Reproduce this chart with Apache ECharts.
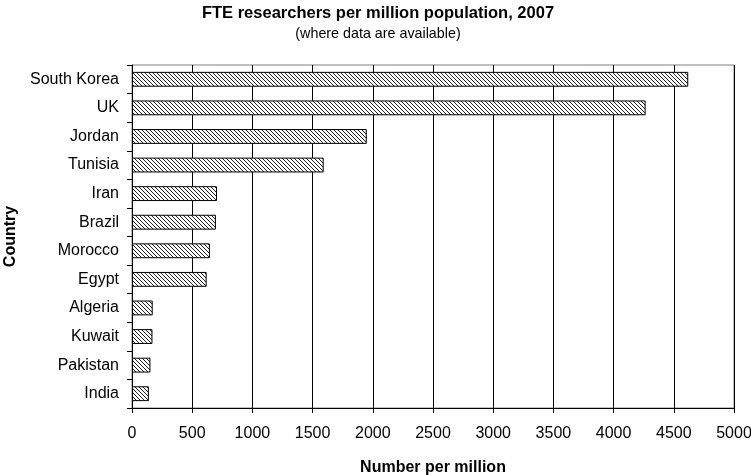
<!DOCTYPE html>
<html><head><meta charset="utf-8">
<script src="https://cdn.jsdelivr.net/npm/echarts@6/dist/echarts.min.js"></script>
<style>html,body{margin:0;padding:0;background:#fff}#c{width:751px;height:475px}</style>
</head><body><div id="c"></div>
<script>
const categories = ['South Korea','UK','Jordan','Tunisia','Iran','Brazil','Morocco','Egypt','Algeria','Kuwait','Pakistan','India'];
const values = [4620, 4266, 1950, 1592, 706, 697, 647, 620, 172, 170, 153, 140];
const xTicks = [0,500,1000,1500,2000,2500,3000,3500,4000,4500,5000];

const pc = document.createElement('canvas');
pc.width = 4; pc.height = 4;
const g = pc.getContext('2d');
g.fillStyle = '#fff'; g.fillRect(0,0,4,4);
g.strokeStyle = '#222'; g.lineWidth = 1;
g.beginPath();
g.moveTo(-1,-1); g.lineTo(5,5);
g.moveTo(-1,3); g.lineTo(1,5);
g.moveTo(3,-1); g.lineTo(5,1);
g.stroke();

const font = 'Liberation Sans, Arial, sans-serif';
const chart = echarts.init(document.getElementById('c'), null, {renderer:'canvas'});
chart.setOption({
  animation: false,
  title: {
    text: 'FTE researchers per million population, 2007',
    subtext: '(where data are available)',
    left: 373, textAlign: 'center', top: 0, itemGap: 5,
    textStyle: {fontFamily: font, fontSize: 16.5, fontWeight: 'bold', color: '#000'},
    subtextStyle: {fontFamily: font, fontSize: 14.3, color: '#000'}
  },
  grid: {left: 132, right: 17, top: 65, bottom: 67, show: true, borderColor: '#808080', borderWidth: 1, containLabel: false, outerBoundsMode: 'none'},
  xAxis: {
    type: 'value', min: 0, max: 5000, interval: 500,
    name: 'Number per million', nameLocation: 'middle', nameGap: 52,
    nameTextStyle: {fontFamily: font, fontSize: 16, fontWeight: 'bold', color: '#000'},
    axisLine: {show: true, lineStyle: {color: '#000'}},
    axisTick: {show: true, length: 5, lineStyle: {color: '#000'}},
    axisLabel: {fontFamily: font, fontSize: 16, color: '#000', margin: 18, formatter: v => xTicks.includes(v) ? String(v) : ''},
    splitLine: {show: true, lineStyle: {color: '#000', width: 1}}
  },
  yAxis: {
    type: 'category', data: categories, inverse: true,
    name: 'Country', nameLocation: 'middle', nameGap: 113, nameRotate: 90,
    nameTextStyle: {fontFamily: font, fontSize: 16, fontWeight: 'bold', color: '#000'},
    axisLine: {show: true, lineStyle: {color: '#000'}},
    axisTick: {show: true, length: 5, alignWithLabel: false, lineStyle: {color: '#000'}},
    axisLabel: {fontFamily: font, fontSize: 16, color: '#000', margin: 13},
    splitLine: {show: false}
  },
  series: [{
    type: 'bar', data: values, barWidth: '52%',
    itemStyle: {color: {image: pc, repeat: 'repeat'}, borderColor: '#000', borderWidth: 1},
    silent: true
  }]
});
</script></body></html>
